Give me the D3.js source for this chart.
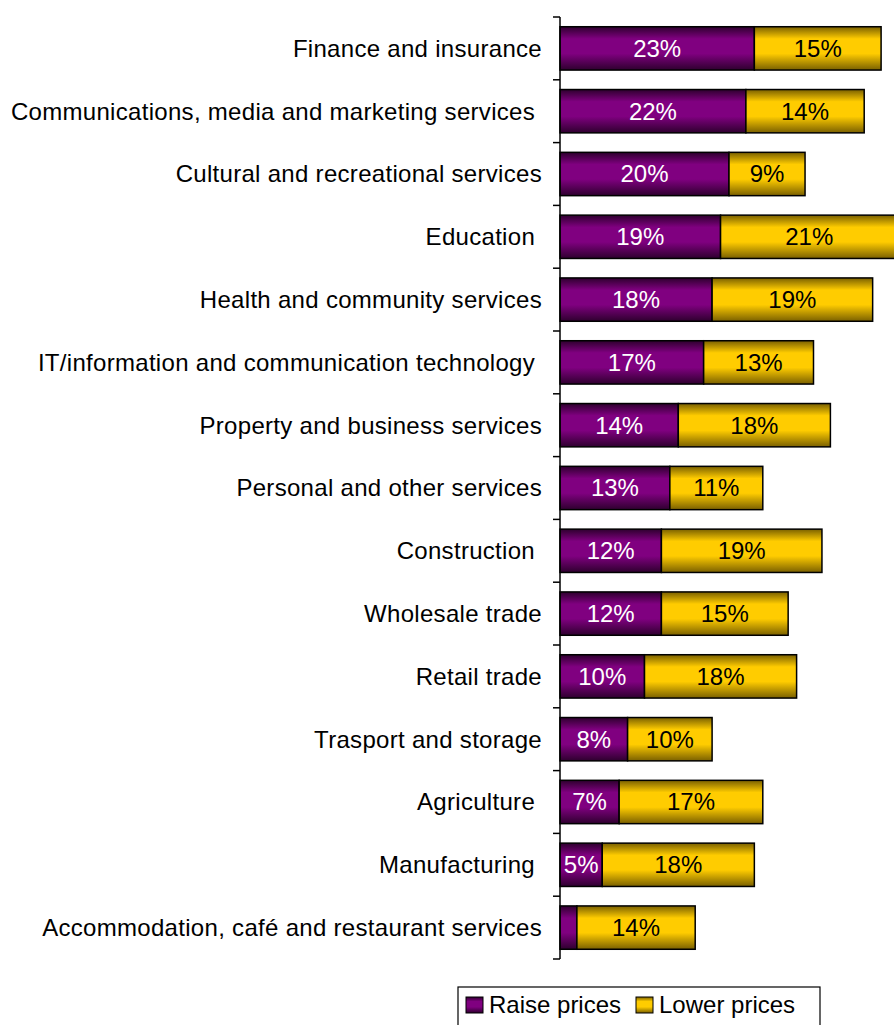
<!DOCTYPE html>
<html>
<head>
<meta charset="utf-8">
<script src="https://cdn.jsdelivr.net/npm/d3@7/dist/d3.min.js"></script>
<style>
  html, body { margin: 0; padding: 0; background: #fff; }
  svg { display: block; font-family: "Liberation Sans", Arial, sans-serif; }
  text { white-space: pre; }
</style>
</head>
<body>
<svg id="chart" width="894" height="1025"></svg>
<script>
// Share of businesses by industry expecting to raise / lower prices (%)
const categories = [
  "Finance and insurance",
  "Communications, media and marketing services ",
  "Cultural and recreational services",
  "Education ",
  "Health and community services",
  "IT/information and communication technology ",
  "Property and business services",
  "Personal and other services",
  "Construction ",
  "Wholesale trade",
  "Retail trade",
  "Trasport and storage",
  "Agriculture ",
  "Manufacturing ",
  "Accommodation, café and restaurant services"
];
const raisePrices = [23, 22, 20, 19, 18, 17, 14, 13, 12, 12, 10, 8, 7, 5, 2];
const lowerPrices = [15, 14, 9, 21, 19, 13, 18, 11, 19, 15, 18, 10, 17, 18, 14];
const seriesNames = ["Raise prices", "Lower prices"];
const valueLabelMin = 3; // segments narrower than this stay unlabelled

const svg = d3.select("#chart");
const fontSize = 24;

// Shaded "cylinder" fills
const defs = svg.append("defs");
function shade(id, edge, mid) {
  const g = defs.append("linearGradient").attr("id", id)
    .attr("x1", 0).attr("y1", 0).attr("x2", 0).attr("y2", 1);
  [[0, edge], [0.28, mid], [0.62, mid], [1, edge]].forEach(([o, c]) =>
    g.append("stop").attr("offset", o).attr("stop-color", c));
}
shade("gPurple", "#2e002e", "#800080");
shade("gGold", "#7a6000", "#ffcc00");

const x0 = 560;
const x = d3.scaleLinear().domain([0, 40]).range([x0, x0 + 338]);
const y = d3.scaleBand().domain(categories).range([17, 959]).paddingInner(0.31).paddingOuter(0.155);

const rows = categories.map((c, i) => ({ c, r: raisePrices[i], l: lowerPrices[i] }));

const g = svg.append("g");

// Raise prices segments
g.selectAll("rect.raise").data(rows).join("rect")
  .attr("class", "raise")
  .attr("x", x(0))
  .attr("y", d => y(d.c))
  .attr("width", d => x(d.r) - x(0))
  .attr("height", y.bandwidth())
  .attr("fill", "url(#gPurple)")
  .attr("stroke", "#000").attr("stroke-width", 1.5);

// Lower prices segments, stacked after raise
g.selectAll("rect.lower").data(rows).join("rect")
  .attr("class", "lower")
  .attr("x", d => x(d.r))
  .attr("y", d => y(d.c))
  .attr("width", d => x(d.r + d.l) - x(d.r))
  .attr("height", y.bandwidth())
  .attr("fill", "url(#gGold)")
  .attr("stroke", "#000").attr("stroke-width", 1.5);

// Value labels
g.selectAll("text.rv").data(rows.filter(d => d.r >= valueLabelMin)).join("text")
  .attr("class", "rv")
  .attr("x", d => (x(0) + x(d.r)) / 2)
  .attr("y", d => y(d.c) + y.bandwidth() / 2)
  .attr("dy", "0.35em")
  .attr("text-anchor", "middle")
  .attr("font-size", fontSize)
  .attr("fill", "#fff")
  .text(d => d.r + "%");

g.selectAll("text.lv").data(rows.filter(d => d.l >= valueLabelMin)).join("text")
  .attr("class", "lv")
  .attr("x", d => (x(d.r) + x(d.r + d.l)) / 2)
  .attr("y", d => y(d.c) + y.bandwidth() / 2)
  .attr("dy", "0.35em")
  .attr("text-anchor", "middle")
  .attr("font-size", fontSize)
  .attr("fill", "#000")
  .text(d => d.l + "%");

// Category axis with ticks at band boundaries
const bounds = d3.range(categories.length + 1).map(i => 17 + i * (942 / categories.length));
const axis = svg.append("g");
axis.append("line")
  .attr("x1", x0).attr("x2", x0)
  .attr("y1", bounds[0]).attr("y2", bounds[bounds.length - 1])
  .attr("stroke", "#000").attr("stroke-width", 1.5);
axis.selectAll("line.tick").data(bounds).join("line")
  .attr("class", "tick")
  .attr("x1", x0 - 7).attr("x2", x0)
  .attr("y1", d => d).attr("y2", d => d)
  .attr("stroke", "#000").attr("stroke-width", 1.5);
axis.selectAll("text").data(categories).join("text")
  .attr("x", 542)
  .attr("y", d => y(d) + y.bandwidth() / 2)
  .attr("dy", "0.35em")
  .attr("text-anchor", "end")
  .attr("font-size", fontSize)
  .attr("letter-spacing", 0.3)
  .attr("fill", "#000")
  .text(d => d);

// Legend
const legend = svg.append("g");
legend.append("rect")
  .attr("x", 458).attr("y", 987).attr("width", 362).attr("height", 50)
  .attr("fill", "#fff").attr("stroke", "#000").attr("stroke-width", 1.2);
const legendItems = [
  { name: seriesNames[0], fill: "url(#gPurple)", x: 466 },
  { name: seriesNames[1], fill: "url(#gGold)", x: 636 }
];
const li = legend.selectAll("g").data(legendItems).join("g")
  .attr("transform", d => `translate(${d.x},997)`);
li.append("rect")
  .attr("width", 17).attr("height", 16)
  .attr("fill", d => d.fill)
  .attr("stroke", "#000").attr("stroke-width", 1);
li.append("text")
  .attr("x", 23).attr("y", 8).attr("dy", "0.35em")
  .attr("font-size", fontSize)
  .text(d => d.name);
</script>
</body>
</html>
